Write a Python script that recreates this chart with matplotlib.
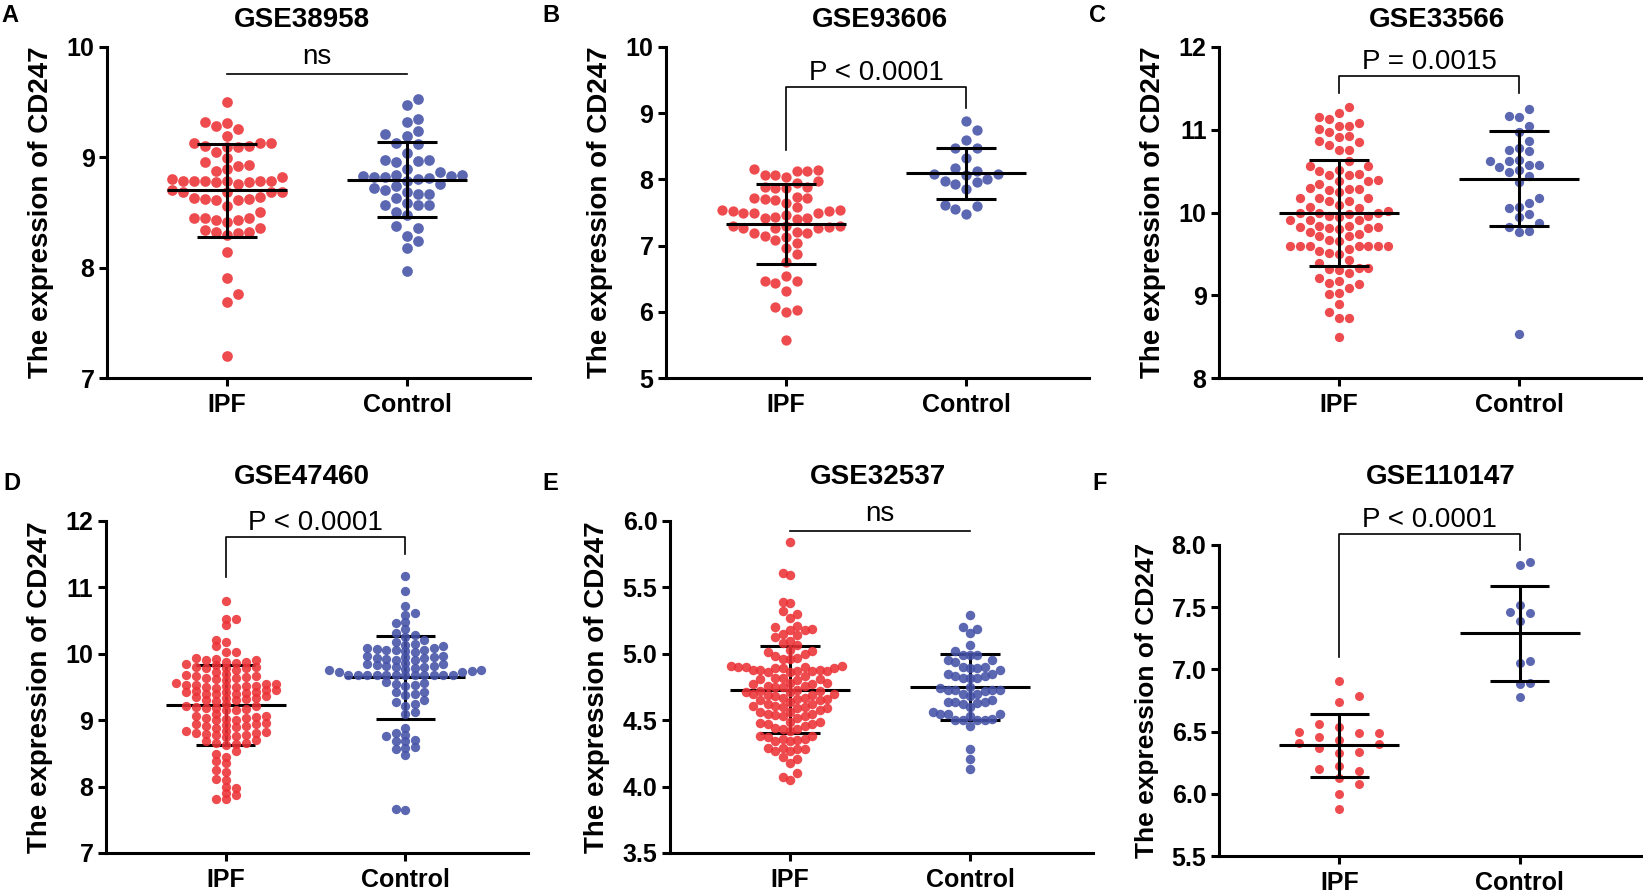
import numpy as np
import matplotlib.pyplot as plt
from matplotlib.ticker import FormatStrFormatter, MultipleLocator

plt.rcParams['font.family'] = ['Liberation Sans', 'DejaVu Sans']
plt.rcParams['font.weight'] = 'bold'

# ---- data ----
titles = ["GSE38958", "GSE93606", "GSE33566", "GSE47460", "GSE32537", "GSE110147"]
letters = ["A", "B", "C", "D", "E", "F"]
groups = ["IPF", "Control"]

a_ipf = [9.50, 9.32, 9.31, 9.28, 9.26, 9.19, 9.13, 9.13, 9.13, 9.10, 9.09, 9.09, 9.10,
         9.05, 8.99, 8.96, 8.92, 8.93, 8.89, 8.88,
         8.80, 8.82, 8.79, 8.78, 8.79, 8.79, 8.79, 8.76, 8.79, 8.78, 8.79,
         8.70, 8.69, 8.69, 8.69, 8.69, 8.63, 8.62, 8.61, 8.61, 8.62, 8.64,
         8.56, 8.50, 8.45, 8.43, 8.41, 8.43, 8.45, 8.45,
         8.31, 8.32, 8.30, 8.32, 8.34, 8.36, 8.14, 7.91, 7.76, 7.69, 7.20]
a_ctrl = [9.53, 9.47, 9.35, 9.32, 9.24, 9.19, 9.21, 9.13, 9.12, 9.04, 8.98, 8.98, 8.97,
          8.96, 8.89, 8.87, 8.84, 8.84, 8.80, 8.79, 8.82, 8.82, 8.83, 8.83, 8.81, 8.76,
          8.74, 8.72, 8.69, 8.67, 8.70, 8.67, 8.63, 8.57, 8.57, 8.59, 8.57, 8.48, 8.50,
          8.38, 8.36, 8.29, 8.24, 8.18, 7.97]

b_ipf = [8.13, 8.06, 8.13, 8.06, 8.03, 8.14, 8.15, 7.95, 7.97, 7.89, 7.87, 7.88, 7.87,
         7.72, 7.74, 7.72, 7.64, 7.70, 7.69, 7.49, 7.54, 7.53, 7.58, 7.46, 7.53, 7.54,
         7.50, 7.50, 7.40, 7.41, 7.43, 7.41, 7.29, 7.28, 7.30, 7.26, 7.27, 7.26, 7.30,
         7.19, 7.21, 7.19, 7.15, 7.09, 7.13, 7.04, 6.96, 6.88, 6.75, 6.54, 6.43, 6.46,
         6.46, 6.32, 6.08, 6.03, 5.99, 5.57]
b_ctrl = [8.88, 8.74, 8.59, 8.48, 8.48, 8.33, 8.17, 8.12, 8.08, 8.08, 8.06, 8.00, 7.96,
          7.98, 7.93, 7.85, 7.62, 7.60, 7.55, 7.48]

c_ipf = [11.27, 11.20, 11.15, 11.13, 11.08, 11.05, 11.05, 11.01, 10.97, 10.92, 10.91,
         10.85, 10.86, 10.82, 10.76, 10.75, 10.62, 10.56, 10.56, 10.50, 10.51, 10.47,
         10.45, 10.45, 10.39, 10.38, 10.38, 10.35, 10.30, 10.29, 10.28, 10.27, 10.18,
         10.25, 10.18, 10.18, 10.14, 10.14, 10.07, 10.09, 10.06, 9.96, 9.96, 10.00,
         10.00, 9.99, 10.02, 9.98, 9.91, 9.95, 9.91, 9.91, 9.80, 9.82, 9.81, 9.81, 9.82,
         9.84, 9.84, 9.77, 9.71, 9.71, 9.74, 9.65, 9.67, 9.60, 9.60, 9.60, 9.60, 9.60,
         9.60, 9.60, 9.56, 9.54, 9.51, 9.50, 9.43, 9.39, 9.32, 9.33, 9.33, 9.27, 9.31,
         9.21, 9.17, 9.13, 9.15, 9.09, 9.01, 9.03, 8.89, 8.80, 8.73, 8.72, 8.49]
c_ctrl = [11.25, 11.17, 11.15, 11.05, 10.97, 10.87, 10.78, 10.75, 10.74, 10.64, 10.62,
          10.62, 10.57, 10.55, 10.58, 10.51, 10.49, 10.44, 10.37, 10.12, 10.17, 10.07,
          10.06, 9.98, 9.94, 9.87, 9.83, 9.78, 9.76, 8.53]

d_ipf = [10.79, 10.53, 10.52, 10.43, 10.21, 10.18, 10.11, 10.03, 10.03,
         9.93, 9.92, 9.90, 9.90, 9.88, 9.88,
         9.86, 9.84, 9.83, 9.80, 9.80, 9.79, 9.79, 9.78, 9.76, 9.73,
         9.70, 9.68, 9.67, 9.66, 9.65, 9.64, 9.63, 9.62, 9.60,
         9.56, 9.55, 9.54, 9.53, 9.53, 9.52, 9.52, 9.51, 9.50, 9.50, 9.49,
         9.46, 9.45, 9.44, 9.43, 9.43, 9.42, 9.41, 9.40, 9.40, 9.39,
         9.36, 9.35, 9.34, 9.33, 9.32, 9.31, 9.30, 9.29,
         9.24, 9.22, 9.21, 9.20, 9.19, 9.18, 9.17, 9.16, 9.15,
         9.09, 9.07, 9.06, 9.05, 9.04, 9.03, 9.02, 9.01, 9.00,
         8.96, 8.95, 8.94, 8.93, 8.92, 8.91, 8.90, 8.88,
         8.84, 8.83, 8.82, 8.81, 8.80, 8.79, 8.78, 8.77, 8.76, 8.75,
         8.70, 8.68, 8.66, 8.65, 8.64, 8.62, 8.53, 8.49, 8.45, 8.38, 8.36,
         8.25, 8.22, 8.12, 8.10, 8.00, 7.98, 7.90, 7.88, 7.82, 7.81]
d_ctrl = [11.17, 10.94, 10.72, 10.61, 10.58, 10.48, 10.46, 10.38,
          10.32, 10.29, 10.26, 10.21, 10.18, 10.15, 10.13, 10.11, 10.09,
          10.08, 10.07, 10.06, 10.06, 10.05, 10.04, 10.03,
          9.97, 9.96, 9.95, 9.95, 9.94, 9.93, 9.92, 9.91, 9.90,
          9.86, 9.85, 9.84, 9.83, 9.82, 9.81, 9.80, 9.80,
          9.78, 9.77, 9.76, 9.75, 9.74, 9.73, 9.72,
          9.68, 9.68, 9.68, 9.68, 9.68, 9.68, 9.68, 9.68, 9.68, 9.68, 9.68, 9.68,
          9.57, 9.56, 9.55, 9.53, 9.52, 9.43, 9.42, 9.40, 9.38,
          9.30, 9.28, 9.25, 9.22, 9.12, 9.10, 8.88, 8.80, 8.78, 8.76,
          8.70, 8.69, 8.68, 8.60, 8.58, 8.56, 8.48, 7.66, 7.65]

e_ipf = [5.84, 5.61, 5.59, 5.39, 5.38, 5.32, 5.30, 5.27, 5.21, 5.20, 5.19, 5.18, 5.18,
         5.15, 5.14, 5.13, 5.10, 5.08, 5.07, 5.03, 5.02, 5.01, 5.00, 4.98, 4.97, 4.96, 4.96,
         4.91, 4.91, 4.90, 4.90, 4.90, 4.89, 4.89, 4.89, 4.88, 4.88, 4.88, 4.87, 4.87,
         4.87, 4.86, 4.86, 4.83, 4.82, 4.82, 4.81, 4.81, 4.80,
         4.78, 4.78, 4.77, 4.77, 4.76, 4.76, 4.75, 4.75,
         4.73, 4.72, 4.72, 4.71, 4.71, 4.70, 4.70, 4.69, 4.69,
         4.68, 4.67, 4.67, 4.66, 4.66, 4.65, 4.65, 4.64,
         4.62, 4.62, 4.61, 4.61, 4.60, 4.60, 4.59, 4.59, 4.58,
         4.56, 4.56, 4.55, 4.55, 4.54, 4.53, 4.53, 4.52,
         4.49, 4.49, 4.48, 4.47, 4.47, 4.46, 4.44, 4.43, 4.43, 4.42,
         4.38, 4.38, 4.37, 4.36, 4.36, 4.35, 4.34, 4.34,
         4.29, 4.29, 4.28, 4.28, 4.27, 4.27, 4.22, 4.21, 4.18, 4.10, 4.07, 4.05]
e_ctrl = [5.29, 5.16, 5.20, 5.19, 5.07, 5.02, 4.99, 4.99, 4.99, 4.95, 4.95,
          4.89, 4.90, 4.89, 4.90, 4.88, 4.94, 4.83, 4.82, 4.82, 4.82, 4.83, 4.85, 4.85,
          4.68, 4.75, 4.73, 4.74, 4.70, 4.70, 4.72, 4.73, 4.73, 4.73,
          4.64, 4.62, 4.60, 4.64, 4.63, 4.64, 4.65, 4.55, 4.55, 4.53, 4.55, 4.56,
          4.46, 4.50, 4.50, 4.50, 4.50, 4.51, 4.28, 4.21, 4.13]

f_ipf = [6.91, 6.79, 6.74, 6.56, 6.54, 6.49, 6.50, 6.49, 6.43, 6.46, 6.40, 6.41, 6.37,
         6.34, 6.33, 6.20, 6.18, 6.22, 6.13, 6.08, 6.00, 5.88]
f_ctrl = [7.86, 7.84, 7.46, 7.52, 7.45, 7.39, 7.07, 7.05, 6.89, 6.88, 6.78]

ipf_values = [a_ipf, b_ipf, c_ipf, d_ipf, e_ipf, f_ipf]
ctrl_values = [a_ctrl, b_ctrl, c_ctrl, d_ctrl, e_ctrl, f_ctrl]

# mean and SD as drawn
means = [(8.70, 8.795), (7.33, 8.09), (9.99, 10.41), (9.225, 9.645), (4.73, 4.75), (6.39, 7.29)]
sds = [(0.42, 0.34), (0.605, 0.39), (0.64, 0.57), (0.60, 0.63), (0.33, 0.245), (0.255, 0.38)]

p_labels = ["ns", "P < 0.0001", "P = 0.0015", "P < 0.0001", "ns", "P < 0.0001"]
bracket_y = [9.755, 9.40, 11.65, 11.755, 5.927, 8.09]
leg_ends = [None, (8.44, 9.08), (11.445, 11.44), (11.16, 11.50), None, (7.10, 7.96)]

y_limits = [(7, 10), (5, 10), (8, 12), (7, 12), (3.5, 6.0), (5.5, 8.0)]
y_steps = [1, 1, 1, 1, 0.5, 0.5]

# ---- layout (pixels) ----
W, H = 1643, 893
axes_px = [(107, 47, 530, 378), (666, 47, 1089, 378), (1219, 47, 1642, 378),
           (106, 521, 528, 853), (670, 521, 1093, 853), (1219, 545, 1643, 856)]
title_px = [(302, 20), (880, 20), (1437, 20), (302, 477), (878, 477), (1441, 477)]
letter_px = [(10, 16), (551, 16), (1097, 16), (12, 483), (550, 484), (1100, 484)]
dot_px = [10.7, 10.3, 9.3, 9.3, 9.5, 9.0]
step_px = [(11.0, 11.0), (10.7, 10.7), (9.8, 9.8), (10.0, 9.5), (7.4, 7.4), (20.0, 10.0)]
vgap_px = [10.5, 10.0, 10.0, 5.5, 8.5, 10.0]
label_size = [20, 20, 20, 20, 20, 19]
lines_on_top = [True, True, True, False, False, True]

red = "#EC3237"
blue = "#4552A8"


def columns(ypix, step, vgap):
    # put each point into the nearest lattice column that has room for it
    xs = np.zeros(len(ypix))
    cols = {}
    for n, i in enumerate(np.argsort(ypix)):
        y = ypix[i]
        sign = 1 if n % 2 == 0 else -1
        cands = [0]
        for j in range(1, 80):
            cands += [sign * j, -sign * j]
        for c in cands:
            if all(abs(y - py) >= vgap for py in cols.get(c, [])):
                break
        cols.setdefault(c, []).append(y)
        xs[i] = c * step
    return xs


fig = plt.figure(figsize=(W / 100, H / 100), dpi=100)

for k in range(6):
    l, t, r, b = axes_px[k]
    ax = fig.add_axes([l / W, 1 - b / H, (r - l) / W, (b - t) / H])
    ax.set_xlim(1 - 120 / 180, 1 + 303 / 180)
    ax.set_ylim(*y_limits[k])

    p0 = ax.transData.transform((0, 0))
    p1 = ax.transData.transform((1, 1))
    sx, sy = p1[0] - p0[0], p1[1] - p0[1]

    z_lines = 4 if lines_on_top[k] else 2
    for g, (vals, col) in enumerate([(ipf_values[k], red), (ctrl_values[k], blue)]):
        xc = g + 1
        vals = np.array(vals)
        offs = columns(vals * sy, step_px[k][g], vgap_px[k])
        ax.scatter(xc + offs / sx, vals, s=(dot_px[k] * 0.72) ** 2, color=col,
                   alpha=0.88, linewidths=0, zorder=3, clip_on=False)
        m, sd = means[k][g], sds[k][g]
        ax.hlines(m, xc - 0.333, xc + 0.333, color="black", lw=2.2, zorder=z_lines)
        ax.hlines([m - sd, m + sd], xc - 0.165, xc + 0.165, color="black", lw=2.2, zorder=z_lines)
        ax.vlines(xc, m - sd, m + sd, color="black", lw=2.2, zorder=z_lines)

    # significance bracket
    yb = bracket_y[k]
    if leg_ends[k] is None:
        ax.plot([1, 2], [yb, yb], color="black", lw=1.2, clip_on=False)
        off = 7
    else:
        ax.plot([1, 1, 2, 2], [leg_ends[k][0], yb, yb, leg_ends[k][1]],
                color="black", lw=1.2, clip_on=False)
        off = 5
    ax.annotate(p_labels[k], xy=(1.5, yb), xytext=(0, off), textcoords="offset points",
                ha="center", va="baseline", fontsize=20, fontweight="normal",
                annotation_clip=False)

    ax.spines["top"].set_visible(False)
    ax.spines["right"].set_visible(False)
    ax.spines["left"].set_linewidth(2.2)
    ax.spines["bottom"].set_linewidth(2.2)
    ax.set_xticks([1, 2])
    ax.set_xticklabels(groups)
    ax.yaxis.set_major_locator(MultipleLocator(y_steps[k]))
    ax.yaxis.set_major_formatter(FormatStrFormatter("%.1f" if y_steps[k] < 1 else "%d"))
    ax.tick_params(axis="both", width=2.2, length=6, labelsize=18)
    ax.tick_params(axis="x", pad=5)
    ax.tick_params(axis="y", pad=3)
    ax.set_ylabel("The expression of CD247", fontsize=label_size[k],
                  fontweight="bold", labelpad=9)

    tx, ty = title_px[k]
    fig.text(tx / W, 1 - ty / H, titles[k], ha="center", va="center", fontsize=20)
    lx, ly = letter_px[k]
    fig.text(lx / W, 1 - ly / H, letters[k], ha="center", va="center", fontsize=17)

fig.savefig("out.png", dpi=100)
